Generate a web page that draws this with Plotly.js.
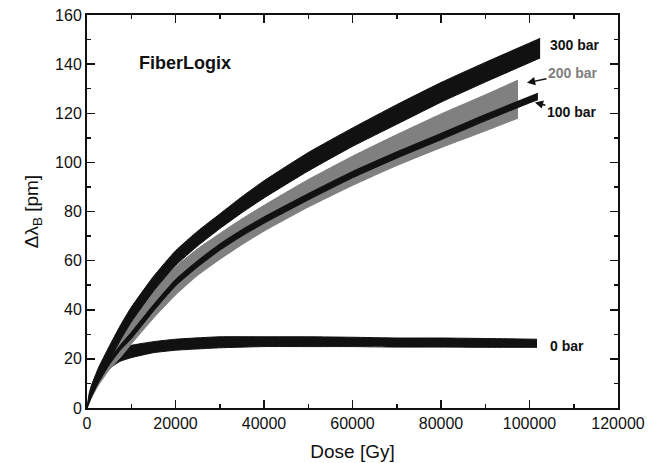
<!DOCTYPE html>
<html><head><meta charset="utf-8">
<script src="https://cdn.plot.ly/plotly-3.0.1.min.js"></script>
<style>html,body{margin:0;padding:0;background:#fff;}#chart{width:666px;height:463px;}</style>
</head><body><div id="chart"></div>
<script>
// Dose [Gy] sample points and band envelopes (upper / lower)
const dose300 = [0, 1000, 2500, 5000, 7500, 10000, 15000, 20000, 25000, 30000, 35000, 40000, 50000, 60000, 70000, 80000, 90000, 100000, 102400];
const up300   = [0, 9, 16, 25, 33.5, 41, 53.5, 64, 72, 79, 86, 92.5, 104, 114, 123.5, 132.5, 140.7, 148.6, 150.5];
const lo300   = [0, 5, 11, 19, 27.5, 35, 47.5, 58, 66, 73, 79.5, 85.5, 96.5, 106.5, 115.5, 124.5, 132.7, 140.6, 142.5];

const dose200 = [0, 1000, 2500, 5000, 7500, 10000, 15000, 20000, 25000, 30000, 35000, 40000, 50000, 60000, 70000, 80000, 90000, 97400];
const up200   = [0, 8, 15, 23, 30, 36, 47.5, 57.5, 64.8, 71, 77, 82.5, 93, 102.5, 111.3, 119.7, 127.5, 133.5];
const lo200   = [0, 4, 9, 15.5, 20.5, 26, 36.5, 46, 54, 60.5, 66.5, 72, 81.8, 90.6, 98.7, 106, 112.8, 118];

const dose100 = [0, 1000, 2500, 5000, 7500, 10000, 15000, 20000, 25000, 30000, 35000, 40000, 50000, 60000, 70000, 80000, 90000, 100000, 101900];
const up100   = [0, 6.5, 12, 19.5, 25.5, 30.8, 42, 52.3, 60, 66.8, 72.6, 77.8, 87.3, 96.3, 104.3, 111.8, 119.5, 126.8, 128.1];
const lo100   = [0, 4.5, 10, 17.5, 23.5, 28.2, 39.4, 49.7, 57.4, 64.2, 70, 75.2, 84.7, 93.7, 101.7, 109.2, 116.9, 124.2, 125.5];

const dose0 = [0, 500, 1000, 2000, 3000, 5000, 7500, 10000, 15000, 20000, 30000, 40000, 50000, 60000, 70000, 80000, 90000, 101700];
const up0   = [0, 6, 9, 13, 16, 20.5, 24, 25.5, 27, 28, 29, 29, 29, 28.8, 28.5, 28.5, 28.3, 28];
const lo0   = [0, 3, 6, 9.5, 12, 16, 19, 20.5, 22.5, 23.5, 24.5, 25, 25, 25, 24.8, 24.8, 24.7, 24.7];

const labels = ["300 bar", "200 bar", "100 bar", "0 bar"];
const black = "#111111", gray = "#808080";
const FONT = "Liberation Sans";

function band(xs, up, lo, color) {
  const base = {type: "scatter", mode: "lines", hoverinfo: "skip", showlegend: false,
                line: {color: color, width: 1, shape: "spline", smoothing: 0.5}};
  return [
    Object.assign({}, base, {x: xs, y: lo}),
    Object.assign({}, base, {x: xs, y: up, fill: "tonexty", fillcolor: color})
  ];
}

const data = [].concat(
  band(dose0, up0, lo0, black),
  band(dose200, up200, lo200, gray),
  band(dose100, up100, lo100, black),
  band(dose300, up300, lo300, black)
);

const layout = {
  width: 666, height: 463,
  margin: {l: 87, r: 48, t: 15, b: 55},
  paper_bgcolor: "#fff", plot_bgcolor: "#fff",
  font: {family: FONT, color: "#111", size: 16},
  showlegend: false,
  xaxis: {
    range: [0, 120000], tickvals: [0, 20000, 40000, 60000, 80000, 100000, 120000],
    ticktext: ["0", "20000", "40000", "60000", "80000", "100000", "120000"],
    ticks: "inside", ticklen: 8, tickwidth: 1.5, tickcolor: "#111",
    minor: {dtick: 10000, ticks: "inside", ticklen: 4, tickwidth: 1.5, tickcolor: "#111"},
    showline: true, linewidth: 2, linecolor: "#111", mirror: "ticks",
    showgrid: false, zeroline: false,
    tickfont: {family: FONT, size: 16},
    title: {text: "Dose [Gy]", font: {family: FONT, size: 19}, standoff: 13}
  },
  yaxis: {
    range: [0, 160], dtick: 20,
    ticks: "inside", ticklen: 8, tickwidth: 1.5, tickcolor: "#111",
    minor: {dtick: 10, ticks: "inside", ticklen: 4, tickwidth: 1.5, tickcolor: "#111"},
    showline: true, linewidth: 2, linecolor: "#111", mirror: "ticks",
    showgrid: false, zeroline: false,
    tickfont: {family: FONT, size: 16},
    title: {text: "Δλ<sub>B</sub> [pm]", font: {family: FONT, size: 19}, standoff: 11}
  },
  annotations: [
    {x: 11300, y: 140.5, xref: "x", yref: "y", text: "<b>FiberLogix</b>", showarrow: false, xanchor: "left", font: {family: FONT, size: 18, color: black}},
    {x: 104200, y: 147.8, xref: "x", yref: "y", text: "<b>" + labels[0] + "</b>", showarrow: false, xanchor: "left", font: {family: FONT, size: 14, color: black}},
    {x: 99200, y: 132.3, xref: "x", yref: "y", text: "<b>" + labels[1] + "</b>", font: {family: FONT, size: 14, color: gray},
     showarrow: true, arrowhead: 2, arrowsize: 1.1, arrowwidth: 1.5, arrowcolor: black, ax: 47, ay: -10, standoff: 1},
    {x: 101000, y: 124.5, xref: "x", yref: "y", text: "<b>" + labels[2] + "</b>", font: {family: FONT, size: 14, color: black},
     showarrow: true, arrowhead: 2, arrowsize: 1.1, arrowwidth: 1.5, arrowcolor: black, ax: 38, ay: 10, standoff: 1},
    {x: 104200, y: 25.2, xref: "x", yref: "y", text: "<b>" + labels[3] + "</b>", showarrow: false, xanchor: "left", font: {family: FONT, size: 14, color: black}}
  ]
};

Plotly.newPlot("chart", data, layout, {displayModeBar: false, staticPlot: true});
</script>
</body></html>
